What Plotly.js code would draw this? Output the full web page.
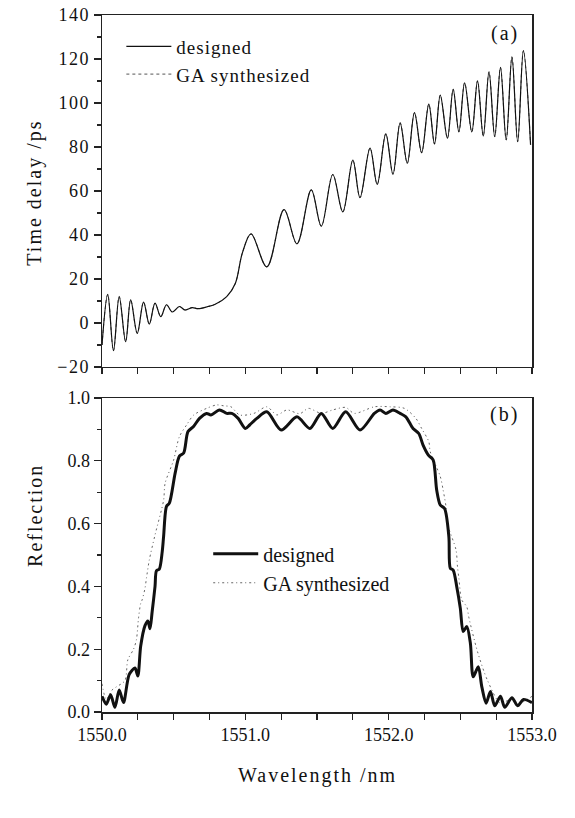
<!DOCTYPE html>
<html>
<head>
<meta charset="utf-8">
<script src="https://cdn.plot.ly/plotly-3.0.1.min.js"></script>
<style>
html,body{margin:0;padding:0;background:#fff;}
#chart{width:575px;height:818px;}
.xtick text,.ytick text{letter-spacing:1.5px;}
.legendtext{letter-spacing:1px;}
.annotation-text{letter-spacing:2px;}
</style>
</head>
<body>
<div id="chart"></div>
<script>
const wlDelay = [1550.00,1550.04,1550.08,1550.12,1550.165,1550.20,1550.246,1550.29,1550.33,1550.37,1550.41,1550.45,1550.49,1550.54,1550.58,1550.63,1550.67,1550.74,1550.79,1550.87,1550.93,1550.98,1551.04,1551.15,1551.27,1551.36,1551.46,1551.53,1551.61,1551.68,1551.75,1551.80,1551.87,1551.92,1551.98,1552.03,1552.08,1552.13,1552.18,1552.23,1552.28,1552.32,1552.36,1552.41,1552.45,1552.49,1552.53,1552.58,1552.62,1552.66,1552.70,1552.74,1552.78,1552.82,1552.86,1552.90,1552.94,1552.99];
const delayDesigned = [-10,13,-12.6,12,-8.5,10.5,-4.7,9.5,-0.5,9,2.9,8.3,5,7.5,5.9,7,6.5,7.5,8.5,12,18,32,40.5,25.5,51.5,36,60.5,44,67.5,50.5,74,57,79.5,63,86,67.6,91,72.6,95.6,77.4,99.5,81.4,103.6,84,106.2,86.9,109.2,86.9,110.1,85,114.2,84.7,116.2,83.2,121,82.4,123.8,81];
const delayGA = [-10,13,-12.6,12,-8.5,10.5,-4.7,9.5,-0.5,9,2.9,8.3,5,7.5,5.9,7,6.5,7.5,8.5,12,18,32,40.5,25.5,51.5,36,60.5,44,67.5,50.5,74,57,79.5,63,86,67.6,91,72.6,95.6,77.4,99.5,81.4,103.6,84,106.2,86.9,109.2,86.9,110.1,85,114.2,84.7,116.2,83.2,121,82.4,123.8,81];

const wlReflDesigned = [1550.00,1550.03,1550.06,1550.09,1550.12,1550.15,1550.19,1550.23,1550.25,1550.27,1550.30,1550.32,1550.335,1550.35,1550.37,1550.38,1550.40,1550.42,1550.43,1550.45,1550.47,1550.51,1550.54,1550.57,1550.60,1550.64,1550.68,1550.73,1550.76,1550.82,1550.87,1550.905,1550.95,1551.00,1551.03,1551.08,1551.15,1551.25,1551.36,1551.45,1551.53,1551.61,1551.70,1551.80,1551.90,1551.94,1551.98,1552.03,1552.08,1552.12,1552.17,1552.21,1552.24,1552.277,1552.31,1552.335,1552.36,1552.39,1552.42,1552.43,1552.45,1552.475,1552.50,1552.52,1552.545,1552.57,1552.59,1552.625,1552.65,1552.68,1552.71,1552.74,1552.78,1552.81,1552.86,1552.90,1552.94,1553.00];
const reflDesigned = [0.05,0.025,0.055,0.015,0.07,0.03,0.12,0.14,0.115,0.21,0.275,0.29,0.265,0.32,0.40,0.45,0.455,0.51,0.56,0.655,0.665,0.76,0.815,0.825,0.893,0.91,0.935,0.951,0.946,0.962,0.951,0.951,0.935,0.903,0.914,0.935,0.956,0.898,0.94,0.903,0.951,0.903,0.956,0.898,0.951,0.962,0.951,0.962,0.951,0.94,0.903,0.887,0.85,0.818,0.803,0.707,0.659,0.648,0.558,0.458,0.452,0.399,0.33,0.256,0.272,0.219,0.112,0.144,0.08,0.028,0.065,0.02,0.05,0.015,0.045,0.02,0.04,0.03];
const wlReflGA = [1550.00,1550.03,1550.07,1550.10,1550.16,1550.18,1550.22,1550.24,1550.255,1550.27,1550.28,1550.30,1550.31,1550.33,1550.37,1550.43,1550.44,1550.50,1550.54,1550.59,1550.64,1550.73,1550.80,1550.85,1550.90,1550.96,1551.06,1551.15,1551.22,1551.29,1551.38,1551.44,1551.53,1551.61,1551.70,1551.76,1551.90,1552.01,1552.11,1552.19,1552.23,1552.28,1552.29,1552.36,1552.38,1552.40,1552.41,1552.47,1552.48,1552.49,1552.51,1552.545,1552.56,1552.62,1552.69,1552.78,1552.85,1552.92,1553.00];
const reflGA = [0.09,0.04,0.07,0.08,0.10,0.166,0.20,0.23,0.30,0.346,0.357,0.394,0.426,0.484,0.564,0.675,0.728,0.803,0.877,0.914,0.946,0.967,0.978,0.975,0.972,0.946,0.951,0.972,0.946,0.962,0.95,0.967,0.951,0.962,0.97,0.951,0.972,0.972,0.967,0.935,0.903,0.861,0.829,0.75,0.707,0.654,0.60,0.516,0.463,0.426,0.357,0.335,0.30,0.192,0.10,0.028,0.04,0.03,0.05];

const seriesNames = ['designed', 'GA synthesized'];
const xTitle = 'Wavelength /nm';
const yTitleA = 'Time delay /ps';
const yTitleB = 'Reflection';

const FONT = 'Liberation Serif';
const INK = '#111';

const traces = [
  {x: wlDelay, y: delayGA, xaxis: 'x', yaxis: 'y', mode: 'lines', name: seriesNames[1], legend: 'legend',
   line: {color: '#555', width: 1, dash: 'dot', shape: 'spline', smoothing: 1}},
  {x: wlDelay, y: delayDesigned, xaxis: 'x', yaxis: 'y', mode: 'lines', name: seriesNames[0], legend: 'legend',
   line: {color: '#111', width: 1.2, shape: 'spline', smoothing: 1}},
  {x: wlReflGA, y: reflGA, xaxis: 'x2', yaxis: 'y2', mode: 'lines', name: seriesNames[1], legend: 'legend2',
   line: {color: '#666', width: 1, dash: '2px,3px,1px,3px', shape: 'spline', smoothing: 0.8}},
  {x: wlReflDesigned, y: reflDesigned, xaxis: 'x2', yaxis: 'y2', mode: 'lines', name: seriesNames[0], legend: 'legend2',
   line: {color: '#111', width: 3, shape: 'spline', smoothing: 0.8}}
];

const axisCommon = {
  showline: true, linecolor: '#222', linewidth: 1.5, mirror: true,
  showgrid: false, zeroline: false, ticks: 'outside', tickcolor: '#222', tickwidth: 1.2,
  tickfont: {family: FONT, size: 18, color: INK}
};

const layout = {
  width: 575, height: 818,
  margin: {l: 102, r: 43, t: 15, b: 106},
  paper_bgcolor: '#fff', plot_bgcolor: '#fff',
  font: {family: FONT, color: INK},
  showlegend: true,
  xaxis: Object.assign({}, axisCommon, {anchor: 'y', domain: [0, 1], range: [1550, 1553], dtick: 1, tick0: 1550,
    ticklen: 6, showticklabels: false, minor: {dtick: 0.25, ticks: 'outside', ticklen: 6, tickcolor: '#222'}}),
  yaxis: Object.assign({}, axisCommon, {anchor: 'x', domain: [0.495, 1], range: [-20, 140], dtick: 20, tick0: 0,
    ticklen: 7, minor: {dtick: 10, ticks: 'outside', ticklen: 4, tickcolor: '#222'}}),
  xaxis2: Object.assign({}, axisCommon, {anchor: 'y2', domain: [0, 1], range: [1550, 1553], dtick: 1, tick0: 1550,
    ticklen: 6, tickformat: '.1f', minor: {dtick: 0.25, ticks: 'outside', ticklen: 6, tickcolor: '#222'}}),
  yaxis2: Object.assign({}, axisCommon, {anchor: 'x2', domain: [0, 0.4505], range: [0, 1], dtick: 0.2, tick0: 0,
    ticklen: 7, tickformat: '.1f', minor: {dtick: 0.1, ticks: 'outside', ticklen: 4, tickcolor: '#222'}}),
  legend: {x: 0.045, y: 0.982, xanchor: 'left', yanchor: 'top', bgcolor: 'rgba(0,0,0,0)',
    font: {family: FONT, size: 19, color: INK}, traceorder: 'reversed', itemwidth: 45, tracegroupgap: 0},
  legend2: {x: 0.247, y: 0.255, xanchor: 'left', yanchor: 'top', bgcolor: 'rgba(0,0,0,0)',
    font: {family: FONT, size: 20, color: INK}, traceorder: 'reversed', itemwidth: 45, tracegroupgap: 0},
  annotations: [
    {text: '(a)', xref: 'paper', yref: 'paper', x: 0.975, y: 0.974, xanchor: 'right', yanchor: 'middle', showarrow: false,
     font: {family: FONT, size: 20, color: INK}},
    {text: '(b)', xref: 'paper', yref: 'paper', x: 0.975, y: 0.4275, xanchor: 'right', yanchor: 'middle', showarrow: false,
     font: {family: FONT, size: 20, color: INK}},
    {text: yTitleA, xref: 'paper', yref: 'paper', x: -0.156, y: 0.745, xanchor: 'center', yanchor: 'middle', textangle: -90, showarrow: false,
     font: {family: FONT, size: 20, color: INK}},
    {text: yTitleB, xref: 'paper', yref: 'paper', x: -0.156, y: 0.2826, xanchor: 'center', yanchor: 'middle', textangle: -90, showarrow: false,
     font: {family: FONT, size: 20, color: INK}},
    {text: xTitle, xref: 'paper', yref: 'paper', x: 0.5, y: -0.0904, xanchor: 'center', yanchor: 'middle', showarrow: false,
     font: {family: FONT, size: 20, color: INK}}
  ]
};

Plotly.newPlot('chart', traces, layout, {staticPlot: true, displayModeBar: false});
</script>
</body>
</html>
